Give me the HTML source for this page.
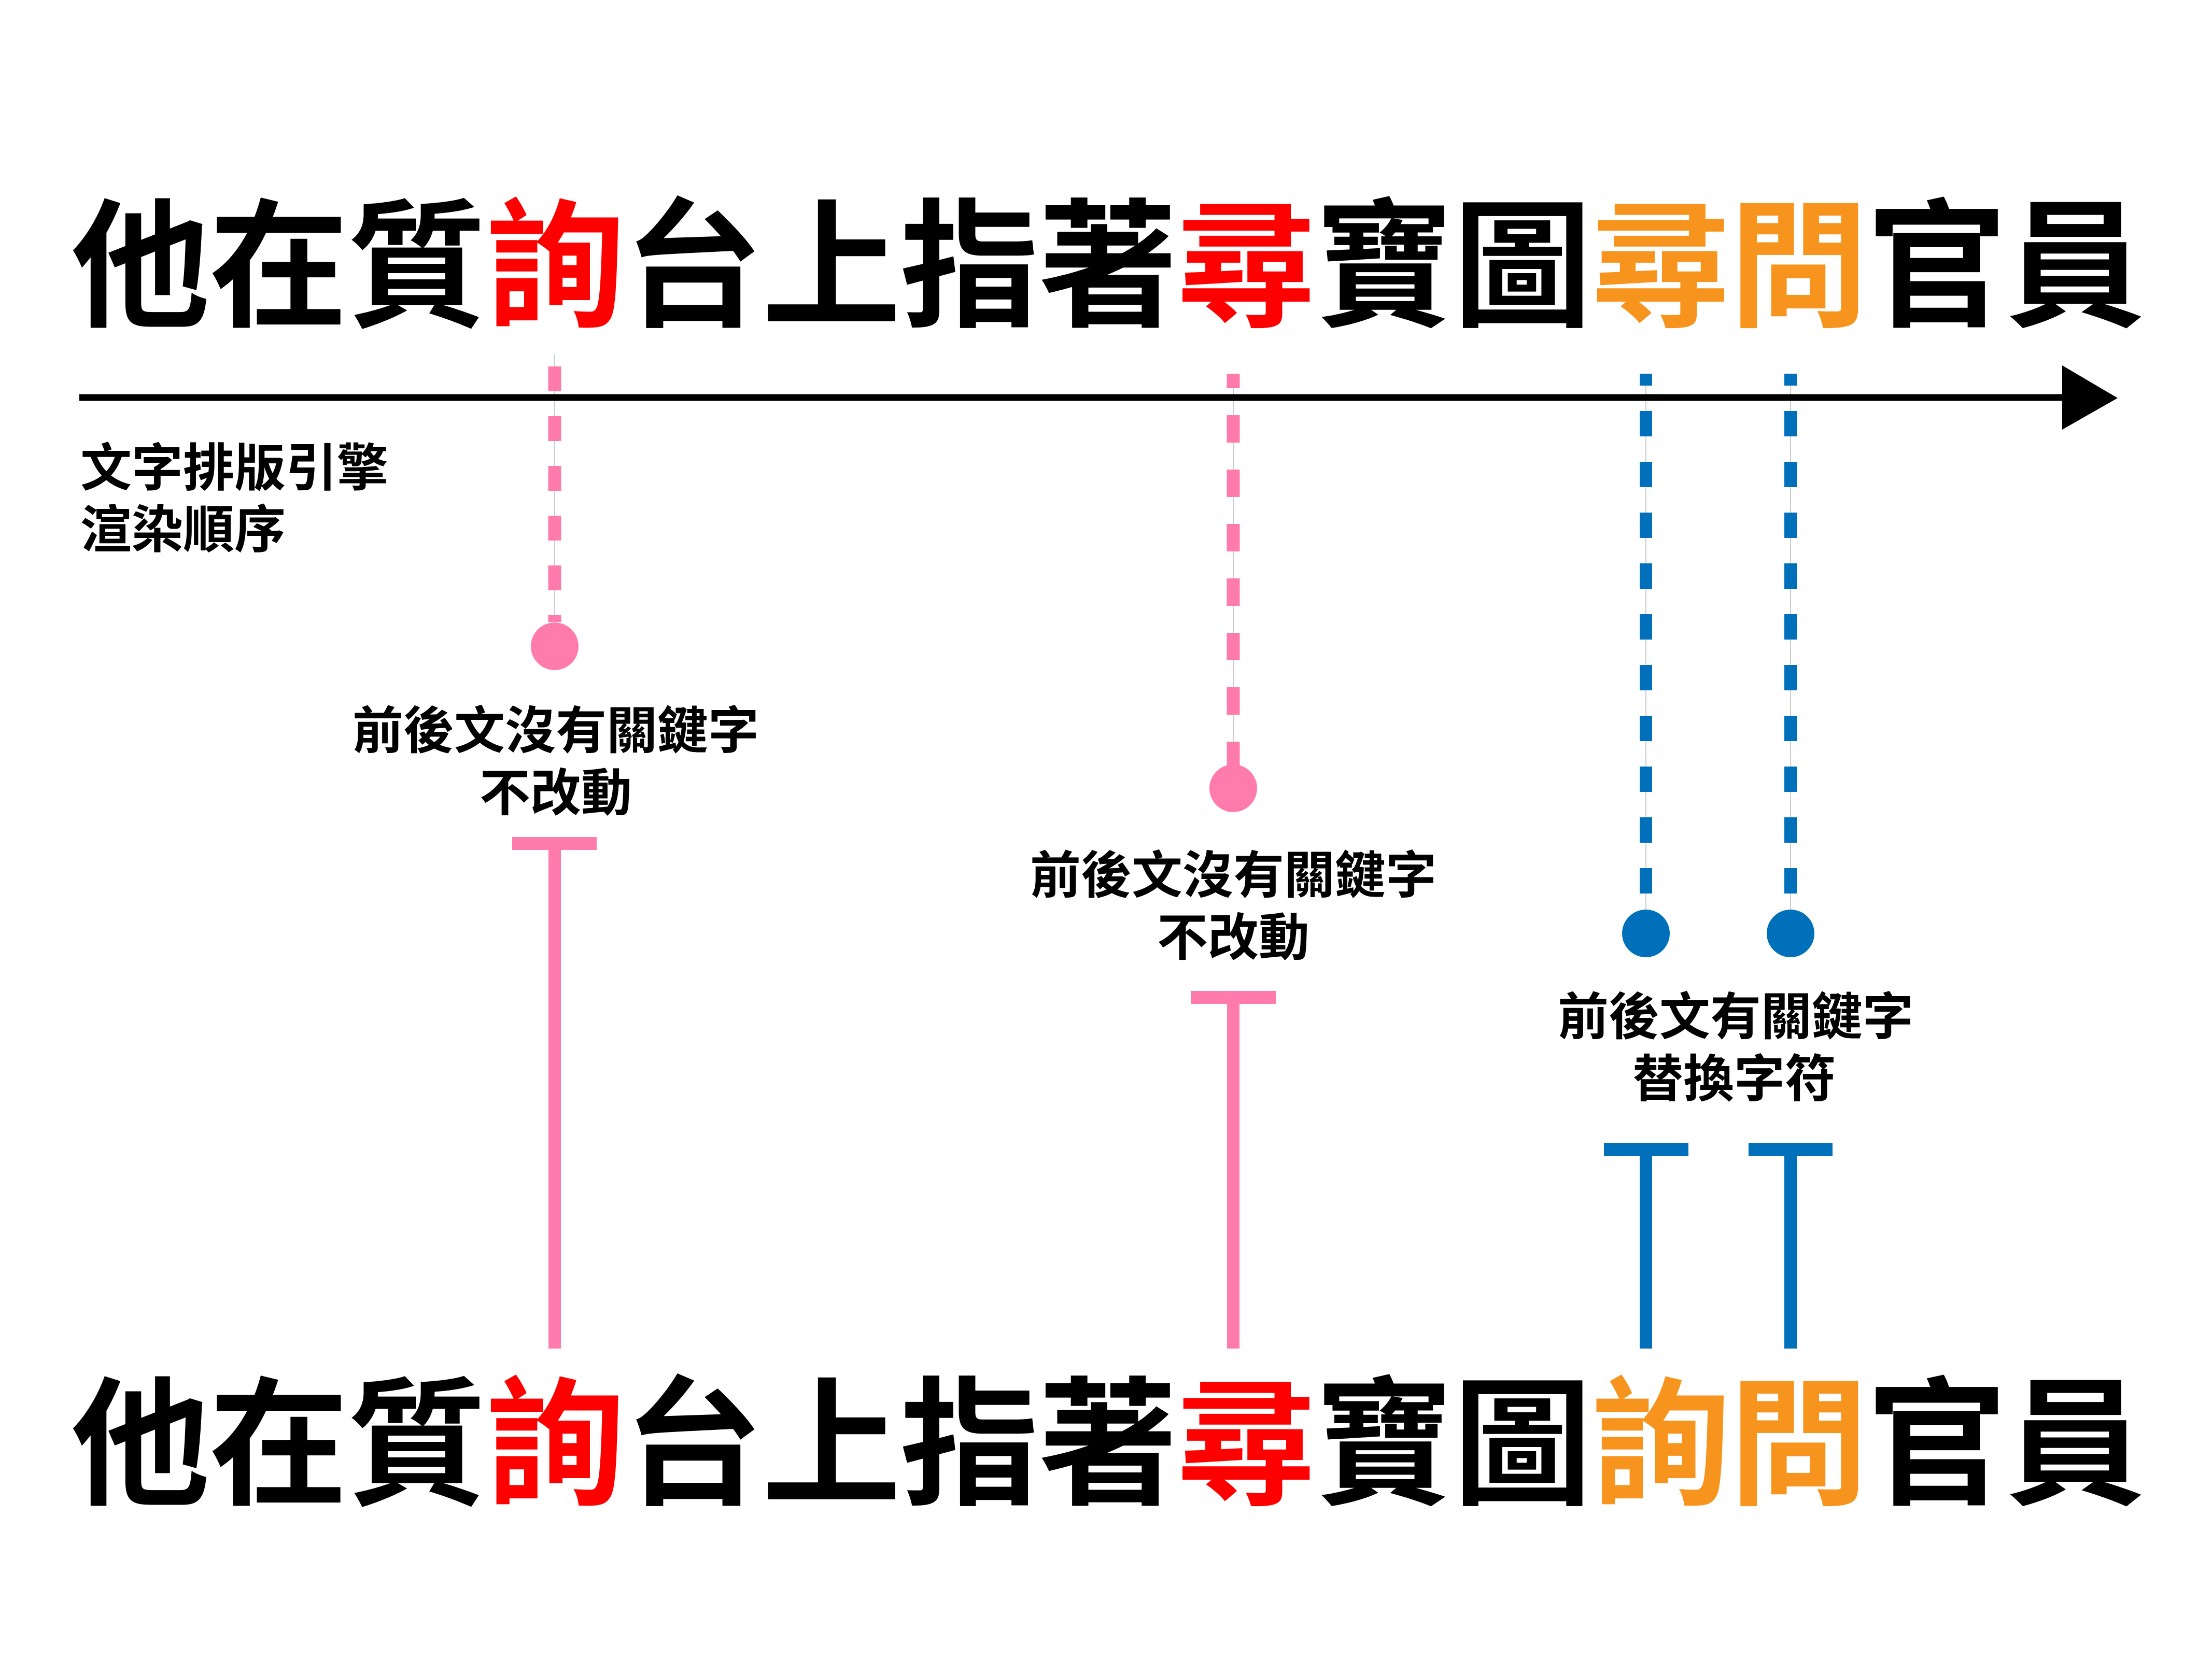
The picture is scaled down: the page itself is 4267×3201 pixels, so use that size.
<!DOCTYPE html>
<html><head><meta charset="utf-8"><style>
html,body{margin:0;padding:0;background:#fff;}
svg{display:block;}
text{font-family:"Liberation Sans","Noto Sans CJK TC","Noto Sans CJK JP",sans-serif;font-weight:bold;}
</style></head><body>
<svg width="4267" height="3201" viewBox="0 0 4267 3201" xmlns="http://www.w3.org/2000/svg">
<rect width="4267" height="3201" fill="#fff"/>
<!-- top title -->
<text x="137" y="516" font-size="268" dominant-baseline="central" textLength="4000" lengthAdjust="spacing">他在質<tspan fill="#ff0000">詢</tspan>台上指著<tspan fill="#ff0000">尋</tspan>寶圖<tspan fill="#f7941d">尋問</tspan>官員</text>
<!-- bottom title -->
<text x="137" y="2789" font-size="268" dominant-baseline="central" textLength="4000" lengthAdjust="spacing">他在質<tspan fill="#ff0000">詢</tspan>台上指著<tspan fill="#ff0000">尋</tspan>寶圖<tspan fill="#f7941d">詢問</tspan>官員</text>

<!-- thin guide lines -->
<g stroke="#bbbbbb" stroke-width="1.5">
<line x1="1070" y1="684" x2="1070" y2="1247"/>
<line x1="2379" y1="721" x2="2379" y2="1521"/>
<line x1="3175" y1="721" x2="3175" y2="1801"/>
<line x1="3454" y1="721" x2="3454" y2="1801"/>
</g>

<!-- axis -->
<line x1="153" y1="767" x2="3980" y2="767" stroke="#000" stroke-width="13"/>
<polygon points="3978,705 4085,768 3978,829" fill="#000"/>

<!-- dashed lines -->
<line x1="1070" y1="684" x2="1070" y2="1200" stroke="#ff7bac" stroke-width="25" stroke-dasharray="48 48" stroke-dashoffset="-23"/>
<line x1="2379" y1="721" x2="2379" y2="1480" stroke="#ff7bac" stroke-width="25" stroke-dasharray="53 52" stroke-dashoffset="-80"/>
<line x1="3175" y1="721" x2="3175" y2="1730" stroke="#0070bb" stroke-width="24" stroke-dasharray="49 49" stroke-dashoffset="-72"/>
<line x1="3454" y1="721" x2="3454" y2="1730" stroke="#0070bb" stroke-width="24" stroke-dasharray="49 49" stroke-dashoffset="-72"/>

<!-- circles -->
<circle cx="1070" cy="1247" r="46" fill="#ff7bac"/>
<circle cx="2379" cy="1521" r="46" fill="#ff7bac"/>
<circle cx="3175" cy="1801" r="46" fill="#0070bb"/>
<circle cx="3454" cy="1801" r="46" fill="#0070bb"/>

<!-- T bars -->
<rect x="988" y="1615" width="163" height="25" fill="#ff7bac"/>
<rect x="1058" y="1615" width="24" height="987" fill="#ff7bac"/>
<rect x="2297" y="1912" width="164" height="25" fill="#ff7bac"/>
<rect x="2367" y="1912" width="24" height="690" fill="#ff7bac"/>
<rect x="3094" y="2205" width="163" height="25" fill="#0070bb"/>
<rect x="3163" y="2205" width="24" height="397" fill="#0070bb"/>
<rect x="3373" y="2205" width="162" height="25" fill="#0070bb"/>
<rect x="3442" y="2205" width="24" height="397" fill="#0070bb"/>

<!-- axis label -->
<text x="155" y="903" font-size="99" dominant-baseline="central">文字排版引擎</text>
<text x="155" y="1022" font-size="99" dominant-baseline="central">渲染順序</text>

<!-- labels -->
<g font-size="98" text-anchor="middle" dominant-baseline="central">
<text x="1072" y="1410" dominant-baseline="central">前後文沒有關鍵字</text>
<text x="1072" y="1530" dominant-baseline="central">不改動</text>
<text x="2379" y="1689" dominant-baseline="central">前後文沒有關鍵字</text>
<text x="2379" y="1809" dominant-baseline="central">不改動</text>
<text x="3348" y="1962" dominant-baseline="central">前後文有關鍵字</text>
<text x="3345" y="2082" dominant-baseline="central">替換字符</text>
</g>
</svg>
</body></html>
